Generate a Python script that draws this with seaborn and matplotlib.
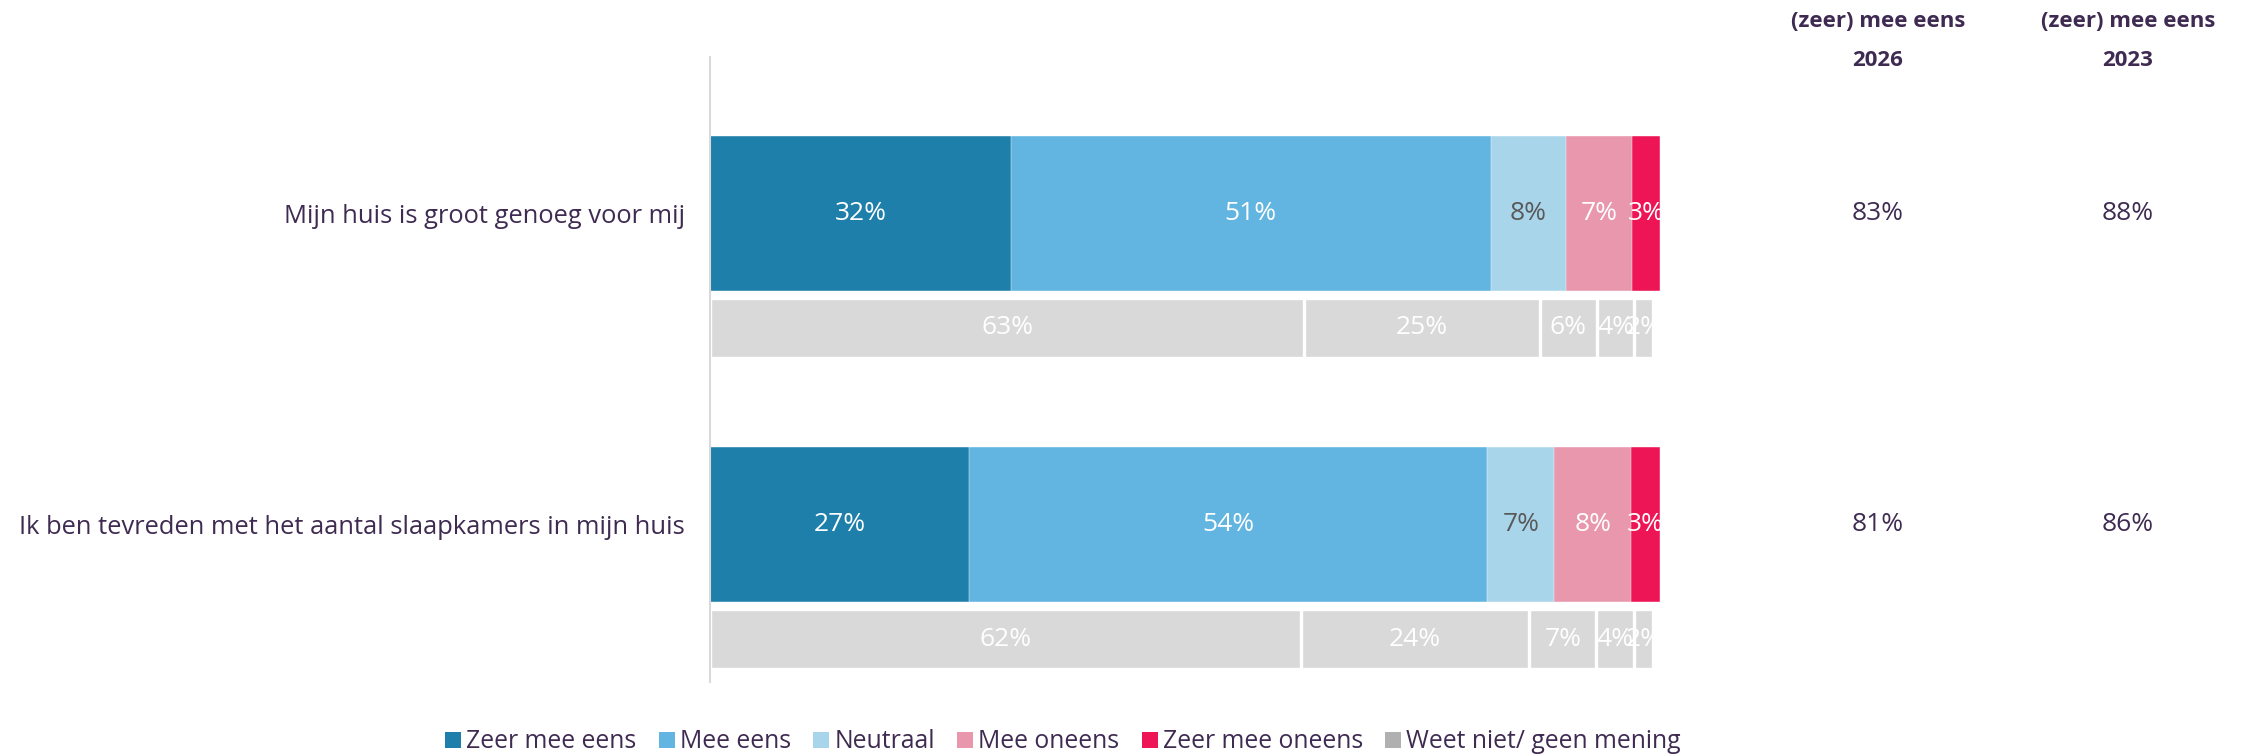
import numpy as np
import matplotlib.pyplot as plt
import seaborn as sns
from matplotlib.patches import Patch

# Data
stellingen = ["Mijn huis is groot genoeg voor mij",
              "Ik ben tevreden met het aantal slaapkamers in mijn huis"]
categorieen = ["Zeer mee eens", "Mee eens", "Neutraal", "Mee oneens",
               "Zeer mee oneens", "Weet niet/ geen mening"]

# 2026 (coloured bars)
zeer_mee_eens = [32, 27]
mee_eens = [51, 54]
neutraal = [8, 7]
mee_oneens = [7, 8]
zeer_mee_oneens = [3, 3]

# 2023 (grey comparison bars)
vorig_zeer_mee_eens = [63, 62]
vorig_mee_eens = [25, 24]
vorig_neutraal = [6, 7]
vorig_mee_oneens = [4, 4]
vorig_zeer_mee_oneens = [2, 2]

eens_2026 = [83, 81]
eens_2023 = [88, 86]

kleuren = ["#1F7FAB", "#62B5E0", "#A9D5EB", "#E897AC", "#EE1556", "#B0B0B0"]
grijs = "#D9D9D9"
tekst = "#3F2B52"

sns.set_style("white")
plt.rcParams["font.family"] = ["Open Sans", "DejaVu Sans"]

fig = plt.figure(figsize=(22.46, 7.56), dpi=100)
ax = fig.add_axes([710 / 2246, 1 - 682 / 756, 950 / 2246, 625 / 756])

pos_main = np.array([0.0, 1.0])
pos_grey = pos_main + 0.368

huidig = np.array([zeer_mee_eens, mee_eens, neutraal, mee_oneens, zeer_mee_oneens])
vorig = np.array([vorig_zeer_mee_eens, vorig_mee_eens, vorig_neutraal,
                  vorig_mee_oneens, vorig_zeer_mee_oneens])

# each row is stretched to the full width (100% stacked); grey rows a bit shorter
cum = huidig.cumsum(axis=0) / huidig.sum(axis=0) * 100
cum_v = vorig.cumsum(axis=0) / vorig.sum(axis=0) * 99.3

# stacked bars: draw cumulative totals from largest to smallest
for i in range(len(huidig) - 1, -1, -1):
    sns.barplot(x=cum[i], y=pos_main, orient="y", native_scale=True, width=0.498,
                color=kleuren[i], saturation=1, errorbar=None,
                edgecolor="white", linewidth=0.3, ax=ax)

for i in range(len(vorig) - 1, -1, -1):
    sns.barplot(x=cum_v[i], y=pos_grey, orient="y", native_scale=True, width=0.193,
                color=grijs, saturation=1, errorbar=None,
                edgecolor="white", linewidth=2.4, ax=ax)

# segment labels
for i in range(len(huidig)):
    for j in range(2):
        start = cum[i - 1, j] if i > 0 else 0
        kleur = "#595959" if i == 2 else "white"
        ax.text((start + cum[i, j]) / 2, pos_main[j], f"{huidig[i, j]}%",
                ha="center", va="center", color=kleur, fontsize=19)
        start_v = cum_v[i - 1, j] if i > 0 else 0
        ax.text((start_v + cum_v[i, j]) / 2, pos_grey[j], f"{vorig[i, j]}%",
                ha="center", va="center", color="white", fontsize=19)

ax.set_xlim(0, 100)
ax.set_ylim(1.506, -0.503)
ax.set_yticks(pos_main)
ax.set_yticklabels(stellingen, fontsize=18.4, color=tekst)
ax.set_xticks([])
ax.tick_params(axis="y", length=0, pad=18)
ax.set_xlabel("")
ax.set_ylabel("")
for s in ["top", "right", "bottom"]:
    ax.spines[s].set_visible(False)
ax.spines["left"].set_color(grijs)
ax.spines["left"].set_linewidth(1.5)

# right-hand columns
for x_fig, jaar, waarden in [(1878 / 2246, "2026", eens_2026), (2128 / 2246, "2023", eens_2023)]:
    fig.text(x_fig, 1 - 41 / 756, f"(zeer) mee eens\n{jaar}", ha="center", va="center",
             fontsize=16, fontweight="bold", color=tekst, linespacing=2.15)
    for j in range(2):
        y_pix = 213.5 + 311 * j
        fig.text(x_fig, 1 - y_pix / 756, f"{waarden[j]}%", ha="center", va="center",
                 fontsize=19, color=tekst)

handles = [Patch(facecolor=c, edgecolor="none") for c in kleuren]
fig.legend(handles, categorieen, loc="center", bbox_to_anchor=(1063 / 2246, 1 - 742 / 756),
           ncol=6, frameon=False, fontsize=17.8, handlelength=0.65, handleheight=0.65,
           handletextpad=0.2, columnspacing=0.9, labelcolor=tekst)

fig.savefig("out.png", dpi=100)
